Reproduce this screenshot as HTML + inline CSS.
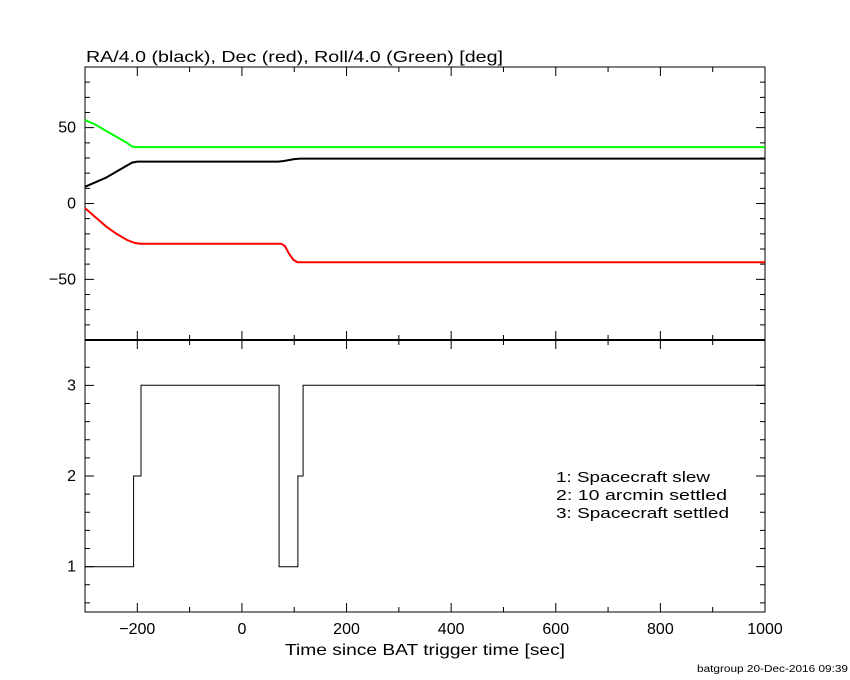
<!DOCTYPE html>
<html><head><meta charset="utf-8"><style>
body{margin:0;background:#fff;}
svg{display:block;font-family:"Liberation Sans",sans-serif;}
</style></head><body>
<svg id="c" width="850" height="680">
<text x="86" y="62" font-size="16" textLength="417" lengthAdjust="spacingAndGlyphs">RA/4.0 (black), Dec (red), Roll/4.0 (Green) [deg]</text>
<text x="285" y="655" font-size="16" textLength="280" lengthAdjust="spacingAndGlyphs">Time since BAT trigger time [sec]</text>
<text x="697" y="672" font-size="10" textLength="151" lengthAdjust="spacingAndGlyphs">batgroup 20-Dec-2016 09:39</text>
<g font-size="15">
<text x="556" y="482" textLength="154" lengthAdjust="spacingAndGlyphs">1: Spacecraft slew</text>
<text x="556" y="500" textLength="171" lengthAdjust="spacingAndGlyphs">2: 10 arcmin settled</text>
<text x="556" y="518" textLength="173" lengthAdjust="spacingAndGlyphs">3: Spacecraft settled</text>
</g>
</svg>
<script>
const raT=[-300,-260,-230,-210,-200,70,80,100,112,1000];
const raV=[11,17,23,27,27.6,27.6,28,29.3,29.6,29.6];
const decT=[-300,-280,-260,-240,-220,-205,-195,75,82,90,98,106,112,1000];
const decV=[-3,-9,-15,-20,-24,-26,-26.5,-26.5,-28,-33,-37,-38.7,-38.8,-38.8];
const rollT=[-300,-280,-260,-240,-220,-210,-200,1000];
const rollV=[55,52,48,44,40,37.5,37.2,37.2];
const stT=[-300,-207,-193,71,107,117,1000];
const stV=[1,2,3,1,2,3,3];
const xTicks=[-200,0,200,400,600,800,1000];
const yTopTicks=[-50,0,50];
const yBotTicks=[1,2,3];
const NS="http://www.w3.org/2000/svg";
const svg=document.getElementById('c');
const X0=85,X1=765,TT=67,TB=340,BT=340,BB=612;
const sx=t=>X0+(t+300)/1300*(X1-X0);
const syT=v=>TT+(90-v)/180*(TB-TT);
const syB=v=>BT+(3.5-v)/3*(BB-BT);
function el(tag,attrs){const e=document.createElementNS(NS,tag);for(const k in attrs)e.setAttribute(k,attrs[k]);svg.appendChild(e);return e;}
let f=el('rect',{x:X0,y:TT,width:X1-X0,height:TB-TT,fill:'none',stroke:'#000','stroke-width':1});


f=el('rect',{x:X0,y:BT,width:X1-X0,height:BB-BT,fill:'none',stroke:'#000','stroke-width':1});


f=el('line',{x1:X0,x2:X1,y1:340,y2:340,stroke:'#000','stroke-width':2});


let d='';
for(let t=-300;t<=1000;t+=100){const x=sx(t);const L=(t%200===0)?9:5;
 d+=`M${x},${TT}v${L}M${x},${TB}v${-L}M${x},${BT}v${L}M${x},${BB}v${-L}`;}
for(let v=-80;v<=80;v+=10){const y=syT(v);const L=(v%50===0)?9:5;d+=`M${X0},${y}h${L}M${X1},${y}h${-L}`;}
for(let i=1;i<=14;i++){const v=0.6+i*0.2-0.2;if(v>3.45)break;const y=syB(v);const L=(Math.abs(v-Math.round(v))<1e-6)?9:5;d+=`M${X0},${y}h${L}M${X1},${y}h${-L}`;}
f=el('path',{d:d,stroke:'#000','stroke-width':1,fill:'none'});


xTicks.forEach(t=>{const e=el('text',{x:sx(t),y:634,'font-size':16,'text-anchor':'middle'});e.textContent=(t<0?'\u2212'+(-t):t);

});
yTopTicks.forEach(v=>{const e=el('text',{x:76,y:syT(v)+5,'font-size':16,'text-anchor':'end'});e.textContent=(v<0?'\u2212'+(-v):v);

});
yBotTicks.forEach(v=>{const e=el('text',{x:76,y:syB(v)+5,'font-size':16,'text-anchor':'end'});e.textContent=v;

});
function line(T,V,col,name){const p=T.map((t,i)=>`${sx(t).toFixed(1)},${syT(V[i]).toFixed(1)}`).join(' ');
 const e=el('polyline',{points:p,fill:'none',stroke:col,'stroke-width':2});
 
 }
line(rollT,rollV,'#00ff00','roll-series');
line(raT,raV,'#000','ra-series');
line(decT,decV,'#ff0000','dec-series');
let sp='';
for(let i=0;i<stT.length-1;i++){sp+=`${sx(stT[i]).toFixed(1)},${syB(stV[i]).toFixed(1)} ${sx(stT[i+1]).toFixed(1)},${syB(stV[i]).toFixed(1)} `;}
f=el('polyline',{points:sp,fill:'none',stroke:'#000','stroke-width':1});


</script>
</body></html>
